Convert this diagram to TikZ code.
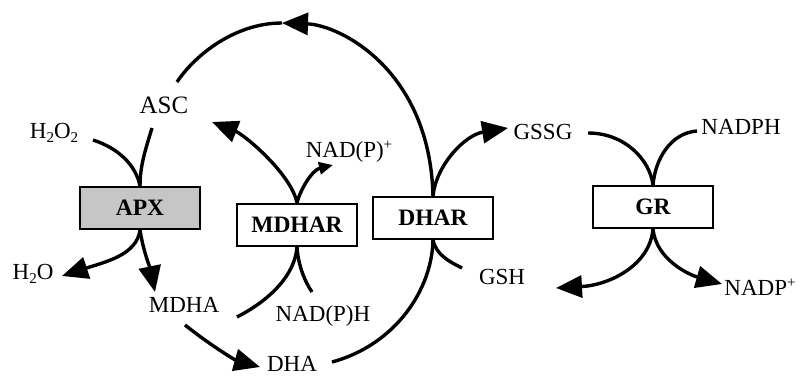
\documentclass[tikz,border=0pt]{standalone}
\usepackage{fontspec}
\setmainfont{Liberation Serif}
\usetikzlibrary{arrows.meta}
\newcommand\sbs[1]{\raisebox{-0.35ex}{\fontsize{15}{15}\selectfont #1}}
\newcommand\sps[1]{\raisebox{0.75ex}{\fontsize{15}{15}\selectfont #1}}
\begin{document}
\begin{tikzpicture}[x=1pt,y=-1pt,
  lbl/.style={inner sep=0pt, font=\fontsize{23}{27}\selectfont},
  enz/.style={draw, line width=1.8pt, minimum width=120pt, minimum height=42pt, inner sep=0pt, font=\fontsize{23.5}{27}\selectfont\bfseries, fill=white},
  flow/.style={line width=3.4pt},
  big/.style={flow, -{Triangle[length=26pt,width=22pt]}},
  small/.style={flow, -{Triangle[length=14pt,width=12pt]}}]
\useasboundingbox (0,0) rectangle (800,382);
% enzyme boxes
\node[enz, fill=gray!45] (apx) at (140,208) {APX};
\node[enz] (mdhar) at (297,225) {MDHAR};
\node[enz] (dhar) at (433,218) {DHAR};
\node[enz] (gr) at (653,207) {GR};
% metabolite labels
\node[lbl, font=\fontsize{25}{29}\selectfont] (asc) at (164,105) {ASC};
\node[lbl] (h2o2) at (54,133) {H\sbs{2}O\sbs{2}};
\node[lbl] (h2o) at (33,274) {H\sbs{2}O};
\node[lbl] (mdha) at (184,305) {MDHA};
\node[lbl] (dha) at (292,364) {DHA};
\node[lbl] (nadpp) at (349,152) {NAD(P)\sps{+}};
\node[lbl] (nadph) at (323,316) {NAD(P)H};
\node[lbl] (gssg) at (543,132) {GSSG};
\node[lbl] (gsh) at (502,277) {GSH};
\node[lbl] (nadphb) at (741,127) {NADPH};
\node[lbl] (nadp) at (760,287) {NADP\sps{+}};
% free ends
\coordinate (h2o2E) at (93,140);
\coordinate (ascB) at (152,128);
\coordinate (h2oT) at (62,276);
\coordinate (mdhaT) at (155,292);
\coordinate (ascR) at (212,122);
\coordinate (nadppT) at (333,165);
\coordinate (mdhaR) at (237,317);
\coordinate (nadphT) at (312,292);
\coordinate (mdhaB) at (185,325);
\coordinate (dhaL) at (260,367);
\coordinate (dhaR) at (332,362);
\coordinate (topArc) at (282,23);
\coordinate (ascT) at (177,82);
\coordinate (gssgT) at (508,128);
\coordinate (gshT) at (462,268);
\coordinate (gssgR) at (588,133);
\coordinate (nadphL) at (697,131);
\coordinate (gshR) at (556,288);
\coordinate (nadpT) at (722,284);
% APX
\draw[flow] (h2o2E) .. controls (118,148) and (136,165) .. (apx.north);
\draw[flow] (ascB) .. controls (146,148) and (140,165) .. (apx.north);
\draw[big] (apx.south) .. controls (137,255) and (105,262) .. (h2oT);
\draw[big] (apx.south) .. controls (143,250) and (150,268) .. (mdhaT);
% MDHAR
\draw[big] (mdhar.north) .. controls (292,175) and (245,135) .. (ascR);
\draw[small] (mdhar.north) .. controls (300,190) and (312,170) .. (nadppT);
\draw[flow] (mdhaR) .. controls (270,300) and (295,275) .. (mdhar.south);
\draw[flow] (mdhar.south) .. controls (298,265) and (305,282) .. (nadphT);
\draw[big] (mdhaB) .. controls (210,345) and (235,360) .. (dhaL);
% DHAR
\draw[flow] (dhaR) .. controls (395,345) and (432,290) .. (dhar.south);
\draw[big] (dhar.north) .. controls (430,70) and (340,25) .. (topArc);
\draw[flow] (topArc) .. controls (235,23) and (195,55) .. (ascT);
\draw[big] (dhar.north) .. controls (436,165) and (465,135) .. (gssgT);
\draw[flow] (dhar.south) .. controls (436,255) and (450,262) .. (gshT);
% GR
\draw[flow] (gssgR) .. controls (625,133) and (650,160) .. (gr.north);
\draw[flow] (nadphL) .. controls (670,133) and (655,160) .. (gr.north);
\draw[big] (gr.south) .. controls (650,265) and (610,285) .. (gshR);
\draw[big] (gr.south) .. controls (656,260) and (690,275) .. (nadpT);
\end{tikzpicture}
\end{document}
